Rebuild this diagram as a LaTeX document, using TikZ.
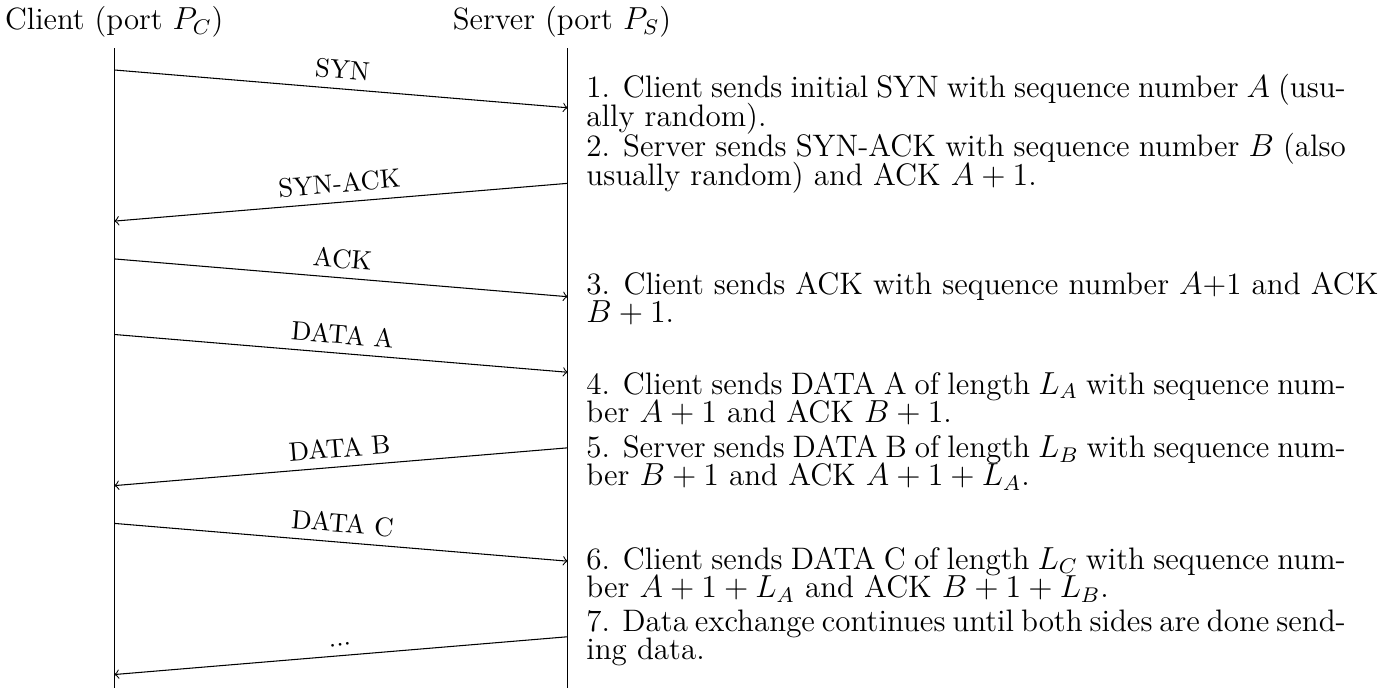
\documentclass[tikz,border=0pt]{standalone}
% line spacing for the step descriptions
\newcommand\notespacing{\baselineskip=10.8pt\relax\lineskiplimit=-20pt\relax\lineskip=0pt\relax}
\begin{document}
\begin{tikzpicture}[
  msg/.style={->, line width=0.4pt},
  lbl/.style={above, sloped, midway},
  party/.style={anchor=base, inner sep=0pt, font=\fontsize{11.6}{13}\selectfont},
  lifeline/.style={line width=0.4pt},
  note/.style={anchor=base west, text width=10.05cm, align=justify, inner sep=0pt,
    font=\fontsize{11.7}{10.8}\selectfont, execute at begin node=\notespacing},
]
\useasboundingbox (-1.5125,0.926) rectangle (16.855,-8.178);

% the two endpoints
\node[party] (client) at (0,0.539) {Client (port $P_C$)};
\node[party] (server) at (5.925,0.539) {Server (port $P_S$)};

\coordinate (ctop) at (0,0.287);
\coordinate (cbot) at (0,-8.2);
\coordinate (stop) at (6,0.287);
\coordinate (sbot) at (6,-8.2);
\draw[lifeline] (ctop) -- (cbot);
\draw[lifeline] (stop) -- (sbot);

% message end points on the lifelines
\coordinate (c1) at (0,0);    \coordinate (s1) at (6,-0.5);
\coordinate (s2) at (6,-1.5); \coordinate (c2) at (0,-2);
\coordinate (c3) at (0,-2.5); \coordinate (s3) at (6,-3);
\coordinate (c4) at (0,-3.5); \coordinate (s4) at (6,-4);
\coordinate (s5) at (6,-5);   \coordinate (c5) at (0,-5.5);
\coordinate (c6) at (0,-6);   \coordinate (s6) at (6,-6.5);
\coordinate (s7) at (6,-7.5); \coordinate (c7) at (0,-8);

\draw[msg] (c1) -- node[lbl] (m1) {SYN} (s1);
\draw[msg] (s2) -- node[lbl] (m2) {SYN-ACK} (c2);
\draw[msg] (c3) -- node[lbl] (m3) {ACK} (s3);
\draw[msg] (c4) -- node[lbl] (m4) {DATA A} (s4);
\draw[msg] (s5) -- node[lbl] (m5) {DATA B} (c5);
\draw[msg] (c6) -- node[lbl] (m6) {DATA C} (s6);
\draw[msg] (s7) -- node[lbl] (m7) {...} (c7);

% step descriptions
\node[note] (n1) at (6.24,-0.366) {1. Client sends initial SYN with sequence number $A$ (usu-\linebreak ally random).};
\node[note] (n2) at (6.24,-1.15) {2. Server sends SYN-ACK with sequence number $B$ (also\linebreak usually random) and ACK $A+1$.};
\node[note] (n3) at (6.24,-2.967) {\mbox{3. Client sends ACK with sequence number $A$+1 and ACK}\\$B+1$.};
\node[note] (n4) at (6.24,-4.29) {4. Client sends DATA A of length $L_A$ with sequence num-\linebreak ber $A+1$ and ACK $B+1$.};
\node[note] (n5) at (6.24,-5.125) {5. Server sends DATA B of length $L_B$ with sequence num-\linebreak ber $B+1$ and ACK $A+1+L_A$.};
\node[note] (n6) at (6.24,-6.605) {6. Client sends DATA C of length $L_C$ with sequence num-\linebreak ber $A+1+L_A$ and ACK $B+1+L_B$.};
\node[note] (n7) at (6.24,-7.425) {7. Data exchange continues until both sides are done send-\linebreak ing data.};
\end{tikzpicture}
\end{document}
